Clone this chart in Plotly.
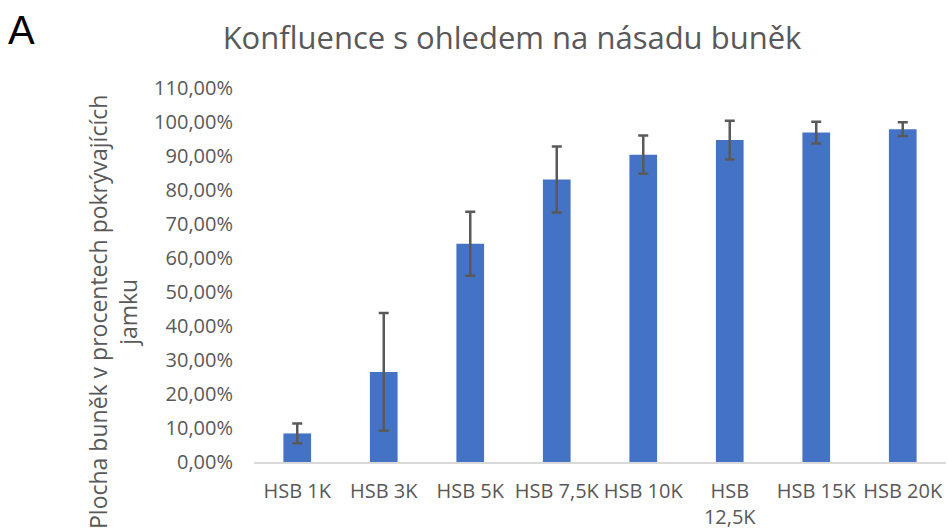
import plotly.graph_objects as go

categories = ["HSB 1K", "HSB 3K", "HSB 5K", "HSB 7,5K", "HSB 10K", "HSB 12,5K", "HSB 15K", "HSB 20K"]
category_labels = ["HSB 1K", "HSB 3K", "HSB 5K", "HSB 7,5K", "HSB 10K", "HSB<br>12,5K", "HSB 15K", "HSB 20K"]
confluence = [8.4, 26.5, 64.2, 83.1, 90.4, 94.7, 96.9, 97.9]
error = [2.9, 17.3, 9.4, 9.7, 5.6, 5.7, 3.2, 2.0]
y_tick_values = [0, 10, 20, 30, 40, 50, 60, 70, 80, 90, 100, 110]
y_tick_labels = ["0,00%", "10,00%", "20,00%", "30,00%", "40,00%", "50,00%",
                 "60,00%", "70,00%", "80,00%", "90,00%", "100,00%", "110,00%"]

W, H = 948, 529
ML, MR, MT, MB = 254, 2, 88, 67
PW = W - ML - MR
PH = H - MT - MB

GRAY = "#595959"
FONT = "Open Sans"

fig = go.Figure(go.Bar(
    x=categories, y=confluence,
    marker=dict(color="#4472C4", line=dict(width=0)),
    error_y=dict(type="data", array=error, visible=True, color=GRAY, thickness=2.5, width=5),
    width=0.32,
))

fig.update_layout(
    width=W, height=H,
    margin=dict(l=ML, r=MR, t=MT, b=MB, autoexpand=False),
    plot_bgcolor="white", paper_bgcolor="white",
    font=dict(family=FONT, color=GRAY, size=20),
    showlegend=False,
    title=dict(text="Konfluence s ohledem na násadu buněk",
               x=512 / W, xanchor="center", y=1 - 38 / H, yanchor="middle",
               font=dict(size=31, color=GRAY, family=FONT)),
    xaxis=dict(tickvals=categories, ticktext=category_labels, showline=True,
               linecolor="#D9D9D9", linewidth=2, showgrid=False, ticks="",
               tickfont=dict(size=20, color=GRAY), ticklabelstandoff=10,
               automargin=False),
    yaxis=dict(range=[0, 110], tickvals=y_tick_values, ticktext=y_tick_labels,
               showgrid=False, zeroline=False, showline=False, ticks="",
               tickfont=dict(size=20, color=GRAY), ticklabelstandoff=20,
               automargin=False),
    annotations=[
        dict(text="Plocha buněk v procentech pokrývajících<br>jamku",
             textangle=-90, xref="paper", yref="paper",
             x=(113 - ML) / PW, y=(H - MB - 312) / PH,
             xanchor="center", yanchor="middle", showarrow=False,
             font=dict(size=23, color=GRAY, family=FONT)),
        dict(text="A", xref="paper", yref="paper",
             x=(6 - ML) / PW, y=1 + (MT - 30) / PH,
             xanchor="left", yanchor="middle", showarrow=False,
             font=dict(size=40, color="black", family="Liberation Sans")),
    ],
)

fig.write_html("out.html", config={"displayModeBar": False},
               post_script="document.body.style.margin='0px';")
